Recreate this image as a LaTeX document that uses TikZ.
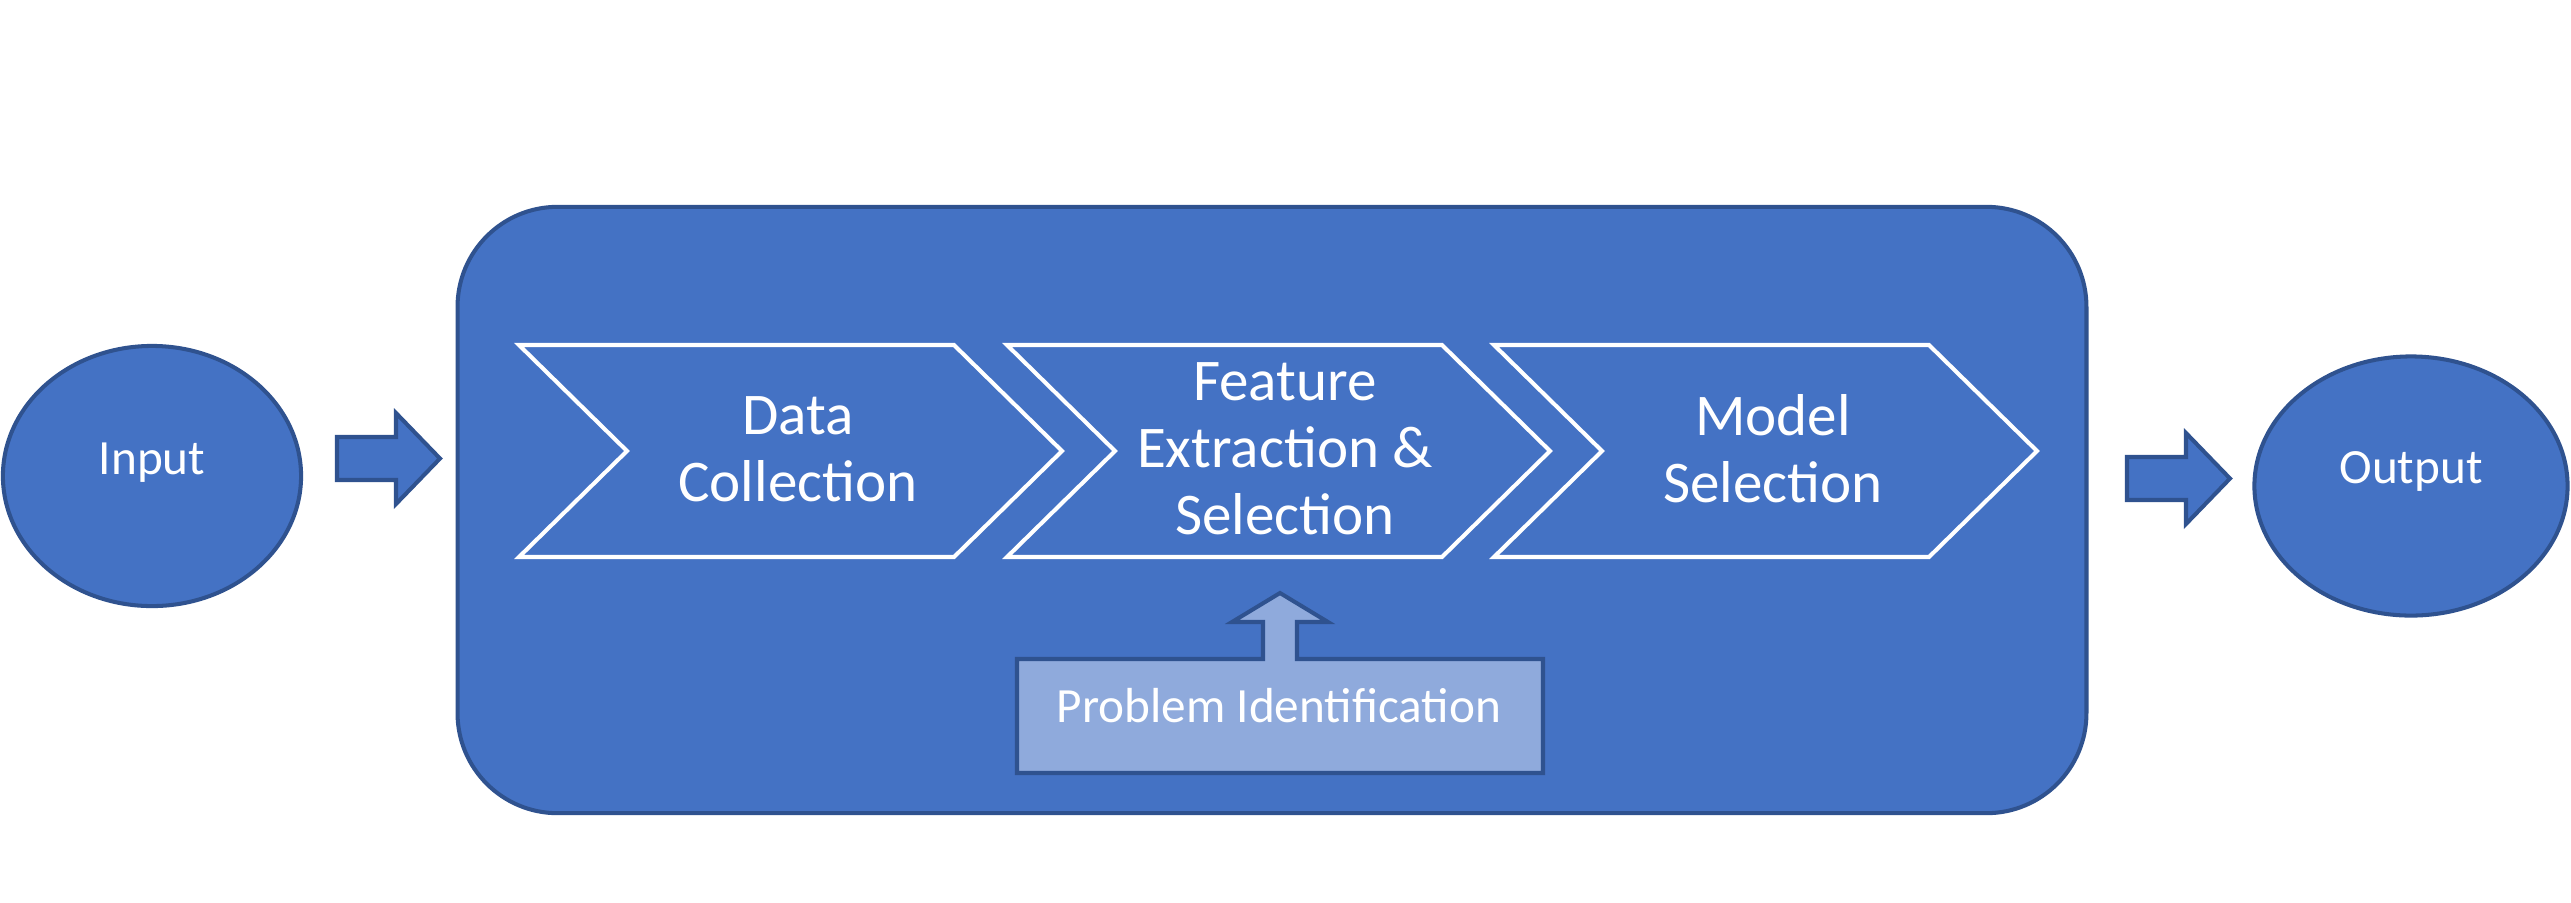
\documentclass[tikz,border=0pt]{standalone}
\usepackage{fontspec}
\setmainfont{Carlito}
\usetikzlibrary{shapes.geometric}
\definecolor{fillblue}{HTML}{4472C4}
\definecolor{edgeblue}{HTML}{2F528F}
\definecolor{lightblue}{HTML}{8FAADC}
\begin{document}
\begin{tikzpicture}[x=0.01cm,y=-0.01cm,
  shapebox/.style={fill=fillblue,draw=edgeblue,line width=1.15pt},
  chev/.style={fill=fillblue,draw=white,line width=1.15pt,line join=miter},
  bigtxt/.style={text=white,font=\fontsize{16.8}{19.06}\selectfont,align=center,inner sep=0pt},
  smalltxt/.style={text=white,font=\fontsize{14}{16.8}\selectfont,inner sep=0pt},
]
\useasboundingbox (0,0) rectangle (2571,902);
% input / output ellipses
\node[shapebox, ellipse, minimum width=2.98cm, minimum height=2.60cm, inner sep=0pt] (in) at (152,476) {};
\node[smalltxt, anchor=base] (intext) at (152,474) {Input};
\node[shapebox, ellipse, minimum width=3.13cm, minimum height=2.59cm, inner sep=0pt] (out) at (2411,486) {};
\node[smalltxt, anchor=base] (outtext) at (2411,483) {Output};
% block arrows
\draw[shapebox] (337,437) -- (396,437) -- (396,413) -- (440,458.5) -- (396,504) -- (396,480) -- (337,480) -- cycle;
\draw[shapebox] (2127,457) -- (2186,457) -- (2186,433) -- (2230,478.5) -- (2186,524) -- (2186,500) -- (2127,500) -- cycle;
% big frame
\node[shapebox, rectangle, rounded corners=1cm, minimum width=16.28cm, minimum height=6.06cm, inner sep=0pt] (frame) at (1272,510) {};
% chevrons
\foreach \L in {519,1007,1494}{
  \draw[chev] (\L,345) -- (\L+435,345) -- (\L+543,451) -- (\L+435,557) -- (\L,557) -- (\L+108,451) -- cycle;
}
\node[bigtxt] (dc) at (798,449) {Data\\Collection};
\node[bigtxt] (fe) at (1285,449) {Feature\\Extraction \&\\Selection};
\node[bigtxt] (ms) at (1773,449) {Model\\Selection};
% problem identification callout
\draw[fill=lightblue,draw=edgeblue,line width=1.15pt,line join=miter]
  (1017,773) -- (1017,659) -- (1263,659) -- (1263,622) -- (1232,622) -- (1280,593) -- (1328,622) -- (1297,622) -- (1297,659) -- (1543,659) -- (1543,773) -- cycle;
\node[smalltxt, anchor=base] (pi) at (1279,722) {Problem Identification};
\end{tikzpicture}
\end{document}
